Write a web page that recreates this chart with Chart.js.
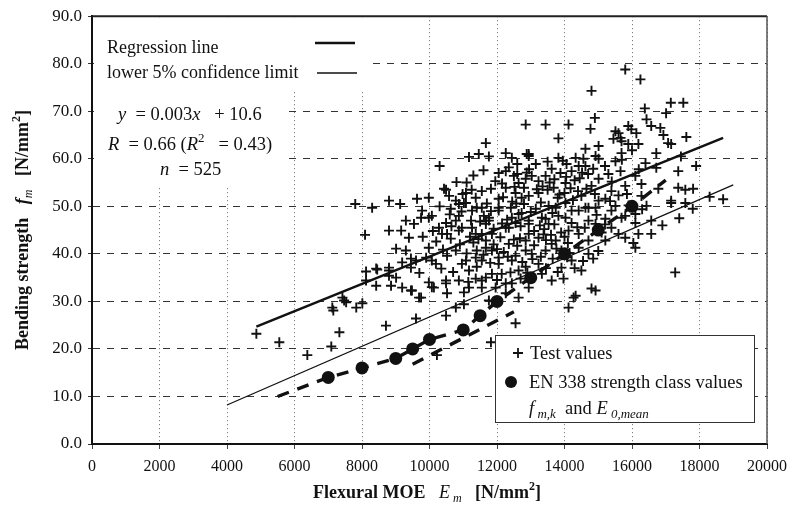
<!DOCTYPE html>
<html>
<head>
<meta charset="utf-8">
<title>Bending strength vs flexural MOE</title>
<script src="https://cdn.jsdelivr.net/npm/chart.js@4.4.1/dist/chart.umd.min.js"></script>
<style>
  html, body { margin: 0; padding: 0; background: #fff; }
  #wrap { width: 795px; height: 517px; }
</style>
</head>
<body>
<div id="wrap"><canvas id="chart"></canvas></div>
<script>
const SERIF = '"Liberation Serif", "DejaVu Serif", serif';

// Test values: [E_m, f_m] in N/mm2
const testValues = [
    [4870, 23.2], [5550, 21.4], [6380, 18.7], [7090, 20.5], [7330, 23.5], [7150, 28.1], [7420, 30.8], [7530, 29.8],
    [7830, 28.7], [8010, 29.6], [7470, 30.2], [7120, 28.7], [7800, 50.5], [8300, 49.7], [8710, 24.9], [9600, 26.4],
    [10220, 18.7], [10490, 27.0], [10780, 28.7], [11020, 29.4], [9690, 30.8], [9480, 32.3], [10070, 33.0], [12550, 25.4],
    [11820, 21.4], [13970, 34.8], [14120, 28.7], [14270, 30.8], [14500, 36.5], [14800, 32.7], [14330, 31.2], [14920, 32.3],
    [16040, 42.3], [15800, 43.4], [17280, 36.1],
    [15800, 78.8], [16250, 76.7], [14800, 74.3], [17150, 71.8], [17520, 71.8], [16380, 70.6], [17010, 69.6], [14900, 68.6],
    [14770, 66.3], [12850, 67.2], [13440, 67.2], [14120, 67.2], [13820, 64.3], [11670, 63.3], [11460, 61.0], [11170, 60.4],
    [11760, 60.5], [12260, 61.2], [10300, 58.5], [12880, 61.0], [12600, 58.9], [15510, 65.8], [15890, 66.9], [15980, 66.2],
    [16130, 65.4], [16430, 68.3], [16570, 66.9], [16840, 66.5], [16930, 65.0], [17160, 63.1], [17610, 64.6], [15660, 64.4],
    [15890, 63.1],
    [8800, 51.2], [9130, 50.5], [9630, 51.6], [9980, 51.8], [9780, 49.1], [8090, 44.0], [8800, 44.9], [9160, 44.9],
    [9390, 43.4], [9540, 46.3], [9750, 47.6], [9980, 47.6], [8120, 36.3], [8450, 36.7], [8120, 34.4], [8420, 33.3],
    [8860, 33.3], [8800, 36.5], [9010, 41.1], [9300, 40.7], [9450, 39.0], [9190, 38.2], [9600, 38.6], [9900, 39.2],
    [9980, 41.3], [10190, 37.9], [9010, 35.0], [9190, 32.9], [9450, 32.3], [9980, 34.0], [10130, 32.9], [9450, 37.1],
    [8800, 35.4], [10370, 44.2], [10630, 43.2], [10490, 46.5], [10780, 47.0], [10960, 45.5], [10870, 50.5], [11080, 50.7],
    [10490, 53.5], [10580, 52.2], [11080, 52.8], [11370, 51.8], [11550, 53.2], [11400, 49.7], [11610, 48.0], [10520, 39.6],
    [10780, 40.7], [10960, 37.9], [11170, 36.5], [11370, 34.8], [11550, 32.9], [11020, 31.9], [10490, 33.8], [9750, 30.8],
    [10520, 31.7], [11400, 40.7], [11670, 42.8], [11370, 44.2],
    [15600, 65.4], [15690, 63.7], [16190, 63.1], [17070, 63.3], [15690, 61.2], [15450, 64.2], [15010, 62.7], [14920, 60.6],
    [14620, 62.1], [14560, 60.0], [12940, 60.6], [13820, 60.2], [14330, 60.2], [14620, 58.5], [15010, 60.0], [15510, 59.5],
    [16400, 59.1], [16720, 61.2], [16720, 58.1], [17370, 57.4], [17370, 53.9], [17810, 53.7], [16780, 53.7], [17160, 50.7],
    [17580, 50.7], [10430, 53.7], [10980, 52.6], [11820, 53.7], [11020, 50.7], [10780, 51.2], [11550, 49.7], [11230, 47.0],
    [12050, 57.0], [12260, 57.4], [12500, 56.4], [12640, 54.9], [12850, 55.8], [13030, 56.4], [13230, 55.3], [13440, 56.4],
    [13620, 57.9], [13880, 57.0], [14060, 58.9], [14210, 57.4], [14420, 58.5], [14030, 54.9], [13680, 53.9], [13230, 52.8],
    [12940, 52.2], [12550, 52.8], [12260, 53.9], [12050, 51.6], [12410, 49.7], [12730, 48.6], [13150, 49.5], [13530, 50.1],
    [14030, 50.7], [14500, 52.2], [14800, 54.3], [15010, 55.8], [15300, 56.8], [15660, 57.4], [16100, 56.4], [16280, 54.7],
    [15800, 54.3], [15390, 53.2], [15210, 51.6], [15510, 50.1], [16280, 52.2], [16430, 50.1], [14920, 49.7], [14420, 49.1],
    [13820, 48.0], [13440, 47.4], [12940, 47.0], [12550, 46.5], [11760, 47.6], [14210, 46.5], [14710, 47.0], [15210, 47.4],
    [15800, 48.0], [16100, 46.5], [10870, 48.0], [10630, 49.5], [11260, 49.1], [11670, 47.0],
    [12940, 61.0], [12440, 60.2], [12050, 49.7], [12730, 51.8], [12440, 47.6], [11670, 46.3], [11850, 44.2], [12260, 45.5],
    [12940, 46.3], [13330, 47.6], [13740, 49.7], [14210, 49.1], [14620, 49.7], [15010, 51.2], [15390, 49.1], [15690, 47.6],
    [16100, 48.4], [16570, 47.0], [16570, 44.2], [17160, 51.2], [16190, 44.2], [15390, 45.5], [14920, 46.3], [14120, 44.9],
    [13740, 42.8], [13230, 43.4], [12850, 42.8], [12350, 42.1], [11850, 40.7], [11550, 38.6], [12050, 37.9], [12550, 39.6],
    [13030, 40.0], [13440, 40.7], [13910, 40.7], [14420, 41.3], [14710, 42.8], [15210, 42.8], [15600, 44.2], [14710, 40.0],
    [14210, 38.6], [13910, 37.1], [13230, 37.9], [12640, 36.5], [12140, 35.8], [11670, 35.0], [12440, 33.8], [11960, 32.9],
    [13330, 35.8], [13620, 34.4], [12260, 31.7], [11760, 30.2], [12640, 30.8], [12940, 32.9], [16100, 41.3],
    [10070, 48.0], [10280, 45.5], [10520, 44.2], [10870, 44.9], [11260, 45.5], [11550, 44.2], [11760, 47.0], [12050, 49.1],
    [12350, 45.5], [12640, 48.4], [12940, 44.2], [13530, 46.3], [14030, 47.6], [14420, 44.2], [14710, 49.7], [11080, 38.6],
    [11370, 39.2], [11670, 41.3], [12050, 39.2], [12440, 38.6], [12850, 40.7], [13620, 42.1], [10070, 38.6], [10490, 34.4],
    [10870, 34.4], [11170, 32.9], [11550, 34.4], [11850, 35.8], [12260, 33.8], [12700, 34.8], [8800, 37.1], [8420, 36.9],
    [17400, 47.5], [16900, 46.0], [17800, 49.5], [18300, 52.0], [18700, 51.5], [17580, 53.5], [17900, 58.5], [17450, 60.5],
    [12100, 43.5], [12300, 47.2], [12500, 43.0], [12700, 45.8], [12800, 50.5], [13000, 48.8], [13100, 44.8], [13300, 50.8],
    [13400, 45.2], [13500, 53.5], [13600, 44.0], [13700, 46.2], [13800, 51.8], [13900, 44.5], [14000, 52.8], [14100, 42.3],
    [14300, 55.5], [14400, 53.2], [14600, 45.5], [14700, 56.8], [14900, 52.6], [15100, 44.5], [15200, 58.5], [15400, 55.2],
    [15600, 52.3], [15700, 59.8], [15900, 50.2], [16000, 61.8], [16200, 57.8], [16300, 49.4], [11300, 42.4], [11500, 46.8],
    [11700, 50.6], [11900, 42.0], [11950, 55.3], [12150, 54.8], [12350, 58.2], [12450, 51.0], [12600, 56.8], [12800, 53.9],
    [12950, 57.8], [13150, 58.9], [13350, 54.2], [13500, 59.4], [13700, 55.7], [13850, 52.5], [14050, 56.2], [14250, 51.3],
    [14450, 55.9], [14650, 53.7], [14850, 57.9], [10700, 36.2], [10900, 42.0], [11100, 40.1], [11200, 43.6], [11400, 37.3],
    [11600, 39.8], [11800, 38.1], [11900, 45.3], [12000, 41.0], [12200, 40.4], [12400, 36.1], [12600, 41.7], [12750, 38.3],
    [12900, 36.0], [13100, 41.8], [13300, 39.4], [13450, 42.9], [13650, 39.0], [13800, 36.2], [14000, 43.6], [14150, 40.2],
    [14300, 37.0], [14550, 38.5], [14850, 39.0], [15000, 40.6], [15200, 46.2], [10200, 42.6], [10400, 40.9], [10600, 48.3],
    [10300, 50.0], [10100, 44.8], [9800, 43.6], [9300, 47.0], [9700, 36.0], [10800, 55.1], [11300, 56.5], [11600, 57.6],
    [11100, 55.0],
    [12180, 51.9], [12520, 54.1], [12880, 57.1], [13180, 53.6], [13560, 55.0], [13950, 59.6], [14180, 53.8], [14520, 57.1],
    [12320, 39.4], [12680, 43.3], [13050, 38.9], [13380, 44.1], [13760, 41.1], [14080, 39.3], [14380, 45.6], [11450, 43.1],
    [11820, 49.0], [12150, 46.4], [12570, 50.6], [13270, 46.0], [13640, 48.6], [14950, 48.2], [15350, 51.1], [15850, 52.6],
    [10650, 45.8], [10950, 48.9], [11250, 53.5], [10350, 36.9], [11150, 34.1], [12000, 34.5], [12850, 37.3], [13450, 37.0]
];

// EN 338 strength classes C14 ... C50 (E0,mean and fm,k)
const classMoe = [7000, 8000, 9000, 9500, 10000, 11000, 11500, 12000, 13000, 14000, 15000, 16000];
const classStrength = [14, 16, 18, 20, 22, 24, 27, 30, 35, 40, 45, 50];

// dashed curve through the class values
const classCurveMoe = [5500, 7000, 8000, 9000, 9500, 10000, 11000, 11500, 12000, 13000, 14000, 15000, 16000, 17000];
const classCurveStrength = [10.0, 14, 16, 18, 20, 22, 24, 27, 30, 35, 40, 45, 50, 55.5];

// short dashed branch under the middle classes
const branchMoe = [9500, 12500];
const branchStrength = [16.8, 27.8];

const regressionMoe = [4870, 18700];
const regressionStrength = [24.7, 64.4];

const lowerLimitMoe = [4000, 19000];
const lowerLimitStrength = [8.2, 54.5];

const xTickValues = [0, 2000, 4000, 6000, 8000, 10000, 12000, 14000, 16000, 18000, 20000];
const yTickValues = [0, 10, 20, 30, 40, 50, 60, 70, 80, 90];

const toPoints = (xs, ys) => xs.map((x, i) => ({ x: x, y: ys[i] }));

function fontOf(p, size) {
    const sz = p.small ? Math.round(size * 0.68) : size;
    return (p.italic ? 'italic ' : '') + (p.bold ? 'bold ' : '') + sz + 'px ' + SERIF;
}

// text with italic / sub / superscript pieces
function richWidth(ctx, parts, size) {
    let w = 0;
    parts.forEach(p => {
        ctx.font = fontOf(p, size);
        w += ctx.measureText(p.t).width;
    });
    return w;
}

function drawRich(ctx, x, y, parts, size) {
    let cx = x;
    parts.forEach(p => {
        ctx.font = fontOf(p, size);
        ctx.fillText(p.t, cx, y + (p.dy || 0));
        cx += ctx.measureText(p.t).width;
    });
}

const annotations = {
    id: 'annotations',
    beforeDatasetsDraw(chart) {
        const ctx = chart.ctx;
        const a = chart.chartArea;
        ctx.save();
        // blank area behind the legend and equation
        ctx.fillStyle = '#fff';
        ctx.fillRect(a.left + 2, a.top + 2, 272, 72);
        ctx.fillRect(a.left + 2, a.top + 74, 188, 97);
        // frame
        ctx.strokeStyle = '#222';
        ctx.lineWidth = 2;
        ctx.beginPath();
        ctx.moveTo(a.left, a.top);
        ctx.lineTo(a.right, a.top);
        ctx.stroke();
        ctx.strokeStyle = '#555';
        ctx.lineWidth = 1.5;
        ctx.beginPath();
        ctx.moveTo(a.right, a.top);
        ctx.lineTo(a.right, a.bottom);
        ctx.stroke();
        ctx.restore();
    },
    afterDraw(chart) {
        const ctx = chart.ctx;
        ctx.save();
        ctx.fillStyle = '#111';
        ctx.strokeStyle = '#111';
        ctx.textBaseline = 'alphabetic';

        // line legend
        ctx.font = '18px ' + SERIF;
        ctx.fillText('Regression line', 107, 53);
        ctx.fillText('lower 5% confidence limit', 107, 78);
        ctx.lineWidth = 2.5;
        ctx.beginPath(); ctx.moveTo(315, 43); ctx.lineTo(355, 43); ctx.stroke();
        ctx.lineWidth = 1.3;
        ctx.beginPath(); ctx.moveTo(317, 73); ctx.lineTo(357, 73); ctx.stroke();

        // regression statistics
        drawRich(ctx, 118, 120, [
            { t: 'y', italic: true }, { t: '  = 0.003' }, { t: 'x', italic: true }, { t: '   + 10.6' }
        ], 18.5);
        drawRich(ctx, 108, 150, [
            { t: 'R', italic: true }, { t: '  = 0.66 (' }, { t: 'R', italic: true },
            { t: '2', small: true, dy: -8 }, { t: '   = 0.43)' }
        ], 18.5);
        drawRich(ctx, 160, 175, [{ t: 'n', italic: true }, { t: '  = 525' }], 18.5);

        // point legend box
        ctx.fillStyle = '#fff';
        ctx.fillRect(495, 335, 259, 87);
        ctx.lineWidth = 1;
        ctx.strokeStyle = '#333';
        ctx.strokeRect(495.5, 335.5, 259, 87);
        ctx.fillStyle = '#111';
        ctx.strokeStyle = '#111';
        ctx.lineWidth = 1.8;
        ctx.beginPath();
        ctx.moveTo(513, 353); ctx.lineTo(523, 353);
        ctx.moveTo(518, 348); ctx.lineTo(518, 358);
        ctx.stroke();
        ctx.beginPath(); ctx.arc(511, 382, 6, 0, Math.PI * 2); ctx.fill();
        ctx.font = '18.5px ' + SERIF;
        ctx.fillText('Test values', 530, 359);
        ctx.fillText('EN 338 strength class values', 529, 388);
        drawRich(ctx, 529, 414, [
            { t: 'f', italic: true }, { t: ' m,k', italic: true, small: true, dy: 4 }, { t: '  and ' },
            { t: 'E', italic: true }, { t: ' 0,mean', italic: true, small: true, dy: 4 }
        ], 18.5);

        // axis titles
        const xTitle = [
            { t: 'Flexural MOE   ', bold: true }, { t: 'E', italic: true },
            { t: ' m', italic: true, small: true, dy: 4 }, { t: '   [N/mm', bold: true },
            { t: '2', bold: true, small: true, dy: -8 }, { t: ']', bold: true }
        ];
        drawRich(ctx, 427 - richWidth(ctx, xTitle, 18) / 2, 498, xTitle, 18);

        const yTitle = [
            { t: 'Bending strength   ', bold: true }, { t: 'f', bold: true, italic: true },
            { t: 'm', italic: true, small: true, dy: 4 }, { t: '   [N/mm', bold: true },
            { t: '2', bold: true, small: true, dy: -8 }, { t: ']', bold: true }
        ];
        ctx.translate(21, 230);
        ctx.rotate(-Math.PI / 2);
        drawRich(ctx, -richWidth(ctx, yTitle, 18) / 2, 7, yTitle, 18);
        ctx.restore();
    }
};

new Chart(document.getElementById('chart'), {
    type: 'scatter',
    data: {
        datasets: [
            {
                label: 'EN 338 strength class values',
                data: toPoints(classMoe, classStrength),
                pointStyle: 'circle',
                pointRadius: 6.5,
                backgroundColor: '#111',
                borderColor: '#111',
                borderWidth: 0,
                order: 0
            },
            {
                label: 'Regression line',
                data: toPoints(regressionMoe, regressionStrength),
                showLine: true,
                pointRadius: 0,
                borderColor: '#111',
                borderWidth: 2.5,
                order: 1
            },
            {
                label: 'lower 5% confidence limit',
                data: toPoints(lowerLimitMoe, lowerLimitStrength),
                showLine: true,
                pointRadius: 0,
                borderColor: '#111',
                borderWidth: 1.3,
                order: 2
            },
            {
                label: 'EN 338 curve',
                data: toPoints(classCurveMoe, classCurveStrength),
                showLine: true,
                pointRadius: 0,
                borderColor: '#111',
                borderWidth: 3.4,
                borderDash: [12, 9],
                order: 3
            },
            {
                label: 'EN 338 branch',
                data: toPoints(branchMoe, branchStrength),
                showLine: true,
                pointRadius: 0,
                borderColor: '#111',
                borderWidth: 3.4,
                borderDash: [12, 9],
                order: 4
            },
            {
                label: 'Test values',
                data: testValues.map(p => ({ x: p[0], y: p[1] })),
                pointStyle: 'cross',
                pointRadius: 5,
                borderColor: '#111',
                borderWidth: 1.9,
                order: 5
            }
        ]
    },
    options: {
        responsive: true,
        maintainAspectRatio: false,
        animation: false,
        devicePixelRatio: 1,
        layout: {
            padding: { top: 15, right: 26, bottom: 0, left: 0 }
        },
        plugins: {
            legend: { display: false },
            tooltip: { enabled: false },
            title: { display: false }
        },
        scales: {
            x: {
                type: 'linear',
                min: 0,
                max: 20000,
                afterFit: s => { s.height = 73; },
                afterBuildTicks: s => { s.ticks = xTickValues.map(v => ({ value: v })); },
                ticks: {
                    color: '#111',
                    padding: 8,
                    maxRotation: 0,
                    font: { family: SERIF, size: 16 },
                    callback: v => String(v)
                },
                grid: {
                    color: '#666',
                    lineWidth: 1,
                    tickLength: 5,
                    tickColor: '#444'
                },
                border: { display: true, color: '#111', width: 2, dash: [1, 3] }
            },
            y: {
                type: 'linear',
                min: 0,
                max: 90,
                afterFit: s => { s.width = 92; },
                afterBuildTicks: s => { s.ticks = yTickValues.map(v => ({ value: v })); },
                ticks: {
                    color: '#111',
                    padding: 6,
                    font: { family: SERIF, size: 17 },
                    callback: v => v.toFixed(1)
                },
                grid: {
                    color: '#333',
                    lineWidth: 1,
                    tickLength: 4,
                    tickColor: '#333'
                },
                border: { display: true, color: '#111', width: 2, dash: [7, 7] }
            }
        }
    },
    plugins: [annotations]
});
</script>
</body>
</html>
